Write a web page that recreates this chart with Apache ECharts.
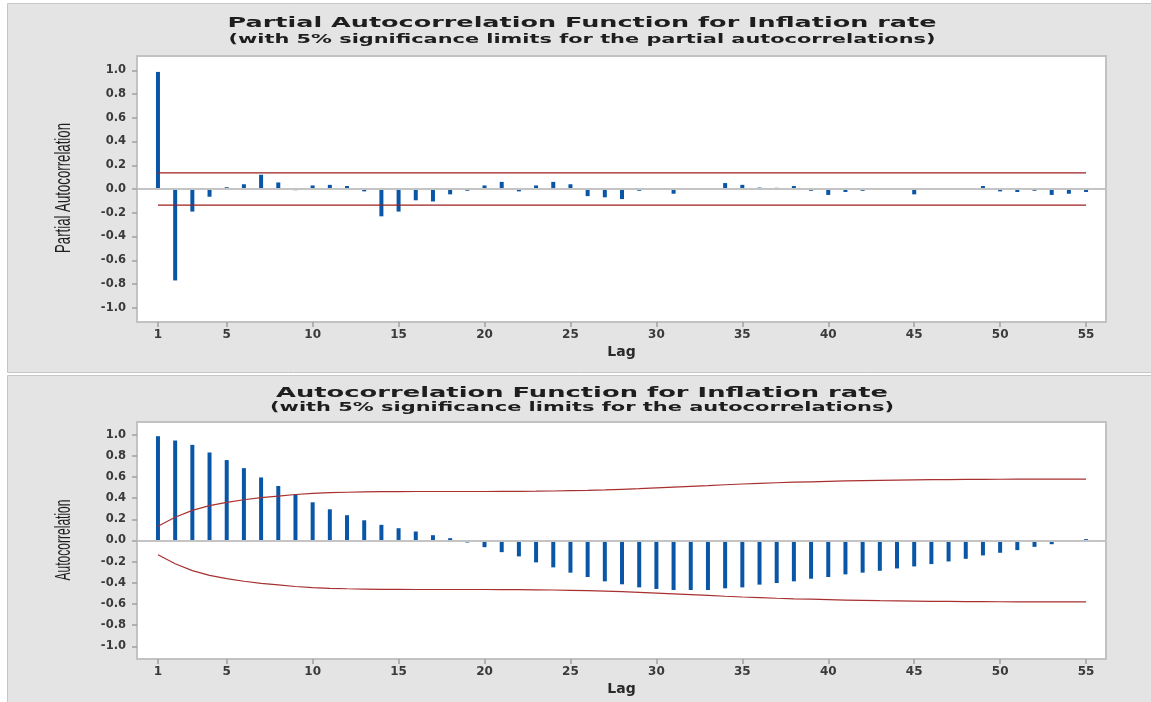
<!DOCTYPE html>
<html><head><meta charset="utf-8">
<script src="https://cdn.jsdelivr.net/npm/echarts@6/dist/echarts.min.js"></script>
<style>html,body{margin:0;padding:0;background:#fff}#c{width:1151px;height:702px}</style>
</head><body><div id="c"></div>
<script>
const lags = [1,2,3,4,5,6,7,8,9,10,11,12,13,14,15,16,17,18,19,20,21,22,23,24,25,26,27,28,29,30,31,32,33,34,35,36,37,38,39,40,41,42,43,44,45,46,47,48,49,50,51,52,53,54,55];
const pacfValues = [0.986,-0.77,-0.19,-0.065,0.015,0.04,0.12,0.055,-0.01,0.03,0.035,0.025,-0.02,-0.23,-0.19,-0.095,-0.105,-0.045,-0.015,0.03,0.06,-0.02,0.03,0.06,0.04,-0.06,-0.07,-0.085,-0.015,-0.005,-0.04,-0.005,0.0,0.05,0.035,0.012,0.01,0.025,-0.015,-0.05,-0.025,-0.015,0.0,-0.005,-0.045,0.0,-0.005,0.0,0.025,-0.02,-0.025,-0.015,-0.05,-0.04,-0.025];
const acfValues = [0.986,0.945,0.904,0.832,0.76,0.684,0.596,0.515,0.436,0.361,0.295,0.239,0.191,0.148,0.116,0.085,0.05,0.022,-0.019,-0.063,-0.11,-0.15,-0.207,-0.254,-0.304,-0.345,-0.386,-0.414,-0.443,-0.458,-0.468,-0.468,-0.468,-0.452,-0.443,-0.417,-0.402,-0.386,-0.361,-0.345,-0.32,-0.304,-0.286,-0.264,-0.245,-0.223,-0.198,-0.173,-0.141,-0.116,-0.091,-0.06,-0.035,-0.013,0.013];
const pacfLimit = 0.135;
const acfLimits = [0.135,0.22,0.285,0.33,0.36,0.385,0.405,0.42,0.435,0.445,0.452,0.456,0.459,0.461,0.462,0.463,0.463,0.463,0.463,0.463,0.464,0.465,0.466,0.468,0.471,0.474,0.478,0.484,0.49,0.497,0.504,0.512,0.519,0.527,0.534,0.54,0.546,0.551,0.555,0.559,0.563,0.566,0.569,0.571,0.573,0.575,0.576,0.577,0.578,0.579,0.58,0.58,0.58,0.581,0.581];
const xTicks = [1,5,10,15,20,25,30,35,40,45,50,55];
const yTicks = [-1.0,-0.8,-0.6,-0.4,-0.2,0.0,0.2,0.4,0.6,0.8,1.0];

const pacfTitle = 'Partial Autocorrelation Function for Inflation rate';
const pacfSubtitle = '(with 5% significance limits for the partial autocorrelations)';
const acfTitle = 'Autocorrelation Function for Inflation rate';
const acfSubtitle = '(with 5% significance limits for the autocorrelations)';

const BLUE = '#0a56a6', RED = '#9e1f1f';
const ctx = document.createElement('canvas').getContext('2d');
function measure(text, font){ ctx.font = font; return ctx.measureText(text).width; }
function stretched(text, cx, cy, size, weight, family, targetW, targetThick, rot){
  const font = weight + ' ' + size + 'px ' + family;
  const w = measure(text, font);
  return { type:'text', x:cx, y:cy, rotation: rot || 0, scaleX: targetW / w,
    scaleY: targetThick ? targetThick / (0.72 * size) : 1, z: 20, silent: true,
    style: { text: text, x:0, y:0, fill:'#1e1e1e', font: font, align:'center', verticalAlign:'middle' } };
}
const TF = "'DejaVu Sans'", NF = "'Liberation Sans'";

function xAxisCfg(gi){
  return { gridIndex: gi, type:'value', min:-0.22, max:56.16, position:'bottom',
    axisLine:{show:true, onZero:false, lineStyle:{color:'#c2c2c2', width:2}}, splitLine:{show:false},
    axisTick:{show:true, inside:false, customValues:xTicks, length:5, lineStyle:{color:'#a0a0a0', width:1.5}},
    axisLabel:{customValues:xTicks, margin:7, fontSize:12, fontWeight:'bold', color:'#3a3a3a', fontFamily:'DejaVu Sans'},
    name:'Lag', nameLocation:'middle', nameGap:23,
    nameTextStyle:{fontSize:14, fontWeight:'bold', color:'#2a2a2a', fontFamily:'DejaVu Sans'} };
}
function yAxisCfg(gi){
  return { gridIndex: gi, type:'value', min:-1.12, max:1.12, position:'left',
    axisLine:{show:true, onZero:false, lineStyle:{color:'#c2c2c2', width:2}}, splitLine:{show:false},
    axisTick:{show:true, inside:false, customValues:yTicks, length:5, lineStyle:{color:'#a0a0a0', width:1.5}},
    axisLabel:{customValues:yTicks, margin:11, fontSize:11.5, fontWeight:'bold', color:'#3a3a3a', fontFamily:'DejaVu Sans',
      formatter: v => Number(v).toFixed(1)} };
}
const zeroLine = { silent:true, symbol:'none', label:{show:false},
  lineStyle:{color:'#c4c4c4', width:2, type:'solid'}, data:[{yAxis:0}] };

const first = lags[0], last = lags[lags.length-1];
const option = {
  animation:false,
  backgroundColor:'#ffffff',
  graphic:{ elements:[
    { type:'rect', z:-10, silent:true, shape:{x:7.5, y:3.5, width:1150, height:369}, style:{fill:'#e4e4e4', stroke:'#c6c6c6', lineWidth:1} },
    { type:'rect', z:-10, silent:true, shape:{x:7.5, y:375.5, width:1150, height:330}, style:{fill:'#e4e4e4', stroke:'#c6c6c6', lineWidth:1} },
    stretched(pacfTitle, 582, 23, 14.5, 'bold', TF, 709),
    stretched(pacfSubtitle, 582, 39.5, 12, 'bold', TF, 707),
    stretched(acfTitle, 582, 393.3, 14, 'bold', TF, 612),
    stretched(acfSubtitle, 582, 408, 12, 'bold', TF, 624),
    stretched('Partial Autocorrelation', 64, 188, 13, 'normal', NF, 130, 16, Math.PI/2),
    stretched('Autocorrelation', 64, 540, 13, 'normal', NF, 81, 16, Math.PI/2)
  ]},
  grid:[
    {left:137, top:56, width:969, height:266, show:true, backgroundColor:'#ffffff', borderColor:'#c2c2c2', borderWidth:2},
    {left:137, top:422, width:969, height:237, show:true, backgroundColor:'#ffffff', borderColor:'#c2c2c2', borderWidth:2}
  ],
  xAxis:[xAxisCfg(0), xAxisCfg(1)],
  yAxis:[yAxisCfg(0), yAxisCfg(1)],
  series:[
    { type:'bar', xAxisIndex:0, yAxisIndex:0, barWidth:4, silent:true, z:2,
      itemStyle:{color:BLUE}, data: lags.map((l,i)=>[l, pacfValues[i]]), markLine: zeroLine },
    { type:'line', xAxisIndex:0, yAxisIndex:0, silent:true, showSymbol:false, symbol:'none', z:3,
      lineStyle:{color:RED, width:1.2}, data:[[first, pacfLimit],[last, pacfLimit]] },
    { type:'line', xAxisIndex:0, yAxisIndex:0, silent:true, showSymbol:false, symbol:'none', z:3,
      lineStyle:{color:RED, width:1.2}, data:[[first, -pacfLimit],[last, -pacfLimit]] },
    { type:'bar', xAxisIndex:1, yAxisIndex:1, barWidth:4, silent:true, z:2,
      itemStyle:{color:BLUE}, data: lags.map((l,i)=>[l, acfValues[i]]), markLine: zeroLine },
    { type:'line', xAxisIndex:1, yAxisIndex:1, silent:true, showSymbol:false, symbol:'none', z:3,
      lineStyle:{color:'#a83030', width:1.2}, data: lags.map((l,i)=>[l, acfLimits[i]]) },
    { type:'line', xAxisIndex:1, yAxisIndex:1, silent:true, showSymbol:false, symbol:'none', z:3,
      lineStyle:{color:'#a83030', width:1.2}, data: lags.map((l,i)=>[l, -acfLimits[i]]) }
  ]
};
const chart = echarts.init(document.getElementById('c'), null, {renderer:'canvas'});
chart.setOption(option);
</script></body></html>
